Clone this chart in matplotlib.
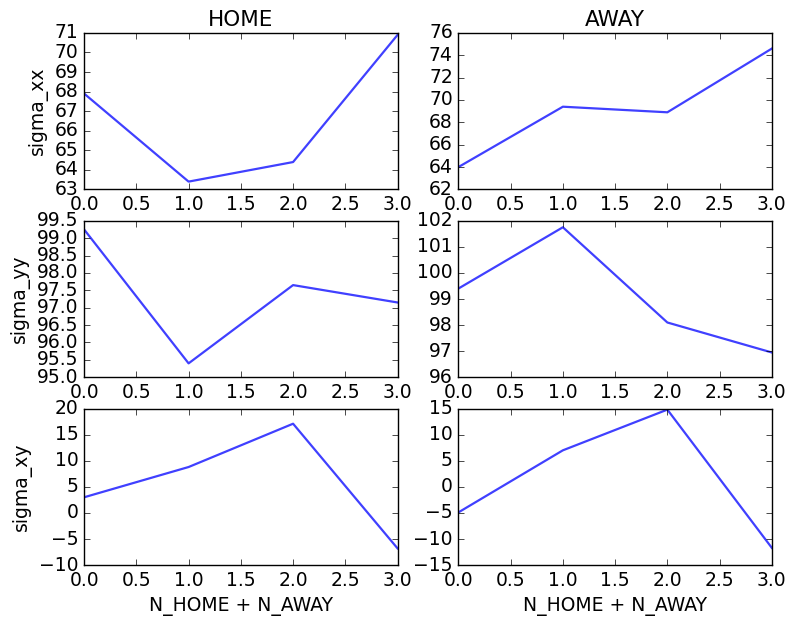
import matplotlib
matplotlib.use("Agg")
import matplotlib.pyplot as plt

plt.style.use("classic")
plt.rcParams["font.size"] = 13.5
plt.rcParams["axes.titlesize"] = 15.5
plt.rcParams["axes.labelsize"] = 13.5
plt.rcParams["xtick.labelsize"] = 13.5
plt.rcParams["ytick.labelsize"] = 13.5

# --- Data ---
n_players = [0, 1, 2, 3]

home_sigma_xx = [67.9, 63.4, 64.4, 70.9]
away_sigma_xx = [64.0, 69.4, 68.9, 74.6]

home_sigma_yy = [99.25, 95.4, 97.65, 97.15]
away_sigma_yy = [99.4, 101.75, 98.1, 96.95]

home_sigma_xy = [3.0, 8.8, 17.1, -6.8]
away_sigma_xy = [-4.9, 7.0, 14.8, -11.7]

row_labels = ["sigma_xx", "sigma_yy", "sigma_xy"]
col_titles = ["HOME", "AWAY"]

home_rows = [home_sigma_xx, home_sigma_yy, home_sigma_xy]
away_rows = [away_sigma_xx, away_sigma_yy, away_sigma_xy]

# y-limits as shown in the figure
ylims = [[(63, 71), (62, 76)], [(95, 99.5), (96, 102)], [(-10, 20), (-15, 15)]]

fig, axes = plt.subplots(3, 2, figsize=(7.86, 6.21), dpi=100)
fig.patch.set_facecolor("white")

for r in range(3):
    for c, series in enumerate([home_rows[r], away_rows[r]]):
        ax = axes[r, c]
        ax.plot(n_players, series, color="blue", alpha=0.75, linewidth=1.6)
        ax.set_xlim(0, 3)
        ax.set_ylim(*ylims[r][c])
        ax.ticklabel_format(axis="y", useOffset=False)
        if c == 0:
            ax.set_ylabel(row_labels[r])
        if r == 0:
            ax.set_title(col_titles[c])
        if r == 2:
            ax.set_xlabel("N_HOME + N_AWAY")

plt.subplots_adjust(left=0.107, right=0.982, top=0.947, bottom=0.090,
                    wspace=0.194, hspace=0.2)
plt.savefig("out.png", dpi=100, facecolor="white")
